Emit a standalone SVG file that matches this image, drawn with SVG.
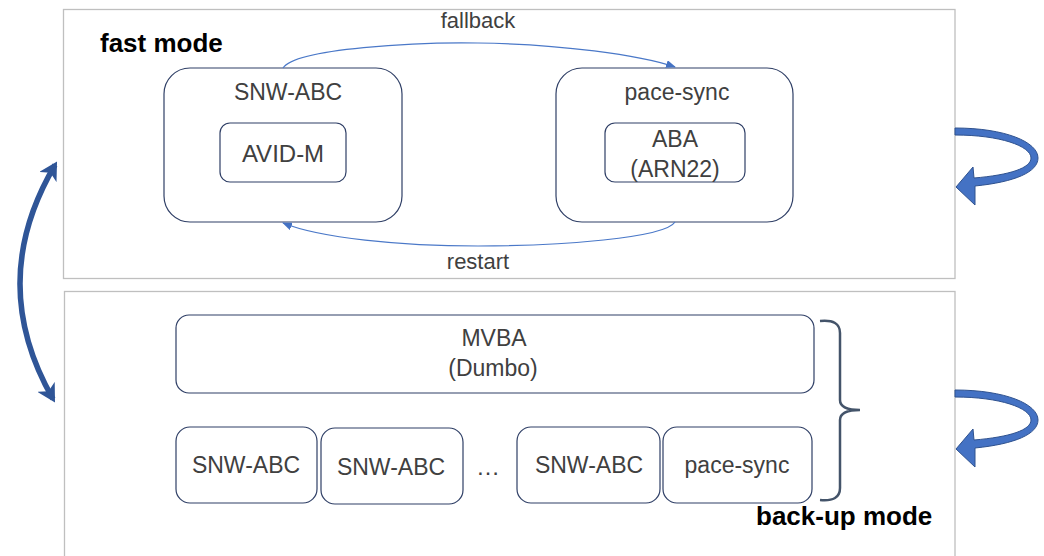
<svg xmlns="http://www.w3.org/2000/svg" width="1044" height="556" viewBox="0 0 1044 556">
<defs>
<style>
.panel{fill:#fff;stroke:#bfbfbf;stroke-width:1.3}
.node{fill:#fff;stroke:#2f3f66;stroke-width:1.2}
.t{font-family:"Liberation Sans",Arial,sans-serif;fill:#404040;text-anchor:middle}
.lbl{font-family:"Liberation Sans",Arial,sans-serif;font-weight:bold;fill:#000;font-size:26px}
.thin{fill:none;stroke:#4a78c8;stroke-width:1.2}
.cyc{fill:#4472c4;stroke:#2f528f;stroke-width:1}
</style>
<marker id="ah" markerWidth="10" markerHeight="8" refX="9" refY="4" orient="auto" markerUnits="userSpaceOnUse">
<path d="M0,0 L10,4 L0,8 Z" fill="#4472c4"/>
</marker>
<marker id="big" markerWidth="22" markerHeight="20" refX="14" refY="10" orient="auto-start-reverse" markerUnits="userSpaceOnUse">
<path d="M0,0 L18,10 L0,20 L5,10 Z" fill="#2f5597"/>
</marker>
</defs>
<rect width="1044" height="556" fill="#fff"/>
<g id="fast-mode-panel">
<rect class="panel" x="63.5" y="9.5" width="891.5" height="269"/>
<text class="lbl" x="100" y="52">fast mode</text>
</g>
<g id="backup-mode-panel">
<rect class="panel" x="64.5" y="291.5" width="890.5" height="280"/>
<text class="lbl" x="756" y="525">back-up mode</text>
</g>
<g id="snw-abc-fast">
<rect class="node" x="164" y="68" width="238" height="154" rx="26"/>
<text class="t" x="288" y="100" font-size="23">SNW-ABC</text>
</g>
<g id="avid-m">
<rect class="node" x="220" y="123" width="126" height="59" rx="10"/>
<text class="t" x="283" y="162" font-size="24">AVID-M</text>
</g>
<g id="pace-sync-fast">
<rect class="node" x="556" y="68" width="237" height="154" rx="26"/>
<text class="t" x="677" y="100" font-size="23">pace-sync</text>
</g>
<g id="aba">
<rect class="node" x="605" y="123" width="140" height="59" rx="10"/>
<text class="t" x="675" y="147" font-size="23">ABA</text>
<text class="t" x="675" y="177" font-size="23">(ARN22)</text>
</g>
<g id="mvba">
<rect class="node" x="176" y="315" width="638" height="78" rx="13"/>
<text class="t" x="494" y="346" font-size="23">MVBA</text>
<text class="t" x="493" y="376" font-size="23">(Dumbo)</text>
</g>
<g id="snw-abc-1">
<rect class="node" x="176" y="427" width="141" height="76" rx="14"/>
<text class="t" x="246" y="473" font-size="23">SNW-ABC</text>
</g>
<g id="snw-abc-2">
<rect class="node" x="321" y="428" width="142" height="76" rx="14"/>
<text class="t" x="391" y="475" font-size="23">SNW-ABC</text>
</g>
<g id="ellipsis">
<text class="t" x="488" y="475" font-size="24">…</text>
</g>
<g id="snw-abc-3">
<rect class="node" x="517" y="427" width="143" height="76" rx="14"/>
<text class="t" x="589" y="473" font-size="23">SNW-ABC</text>
</g>
<g id="pace-sync-backup">
<rect class="node" x="663" y="427" width="149" height="76" rx="14"/>
<text class="t" x="737" y="473" font-size="23">pace-sync</text>
</g>
<g id="connectors">
<path class="thin" d="M283,68 C296,48 420,42 478,43 C560,44 640,55 675,67" marker-end="url(#ah)"/>
<text class="t" x="478" y="28" font-size="22">fallback</text>
<path class="thin" d="M675,222 C665,238 560,246 478,246 C400,246 320,238 283,223" marker-end="url(#ah)"/>
<text class="t" x="478" y="269" font-size="22">restart</text>
<path d="M55,165 Q-14,282 53,399" fill="none" stroke="#2f5597" stroke-width="5.5" marker-start="url(#big)" marker-end="url(#big)"/>
<path d="M820,321 Q840,319 840,333 L840,400 Q840,410 860,410 Q840,410 840,420 L840,488 Q840,502 820,500" fill="none" stroke="#44546a" stroke-width="2.5"/>
<path class="cyc" d="M955,128 C1005,128 1038,142 1038,158 C1038,172 1015,182 975,186 L975,205 L956,187 L973,167 L974,178 C1010,175 1031,168 1031,158 C1031,146 1000,135 955,135 Z"/>
<path class="cyc" transform="translate(0,262)" d="M955,128 C1005,128 1038,142 1038,158 C1038,172 1015,182 975,186 L975,205 L956,187 L973,167 L974,178 C1010,175 1031,168 1031,158 C1031,146 1000,135 955,135 Z"/>
</g>
</svg>
